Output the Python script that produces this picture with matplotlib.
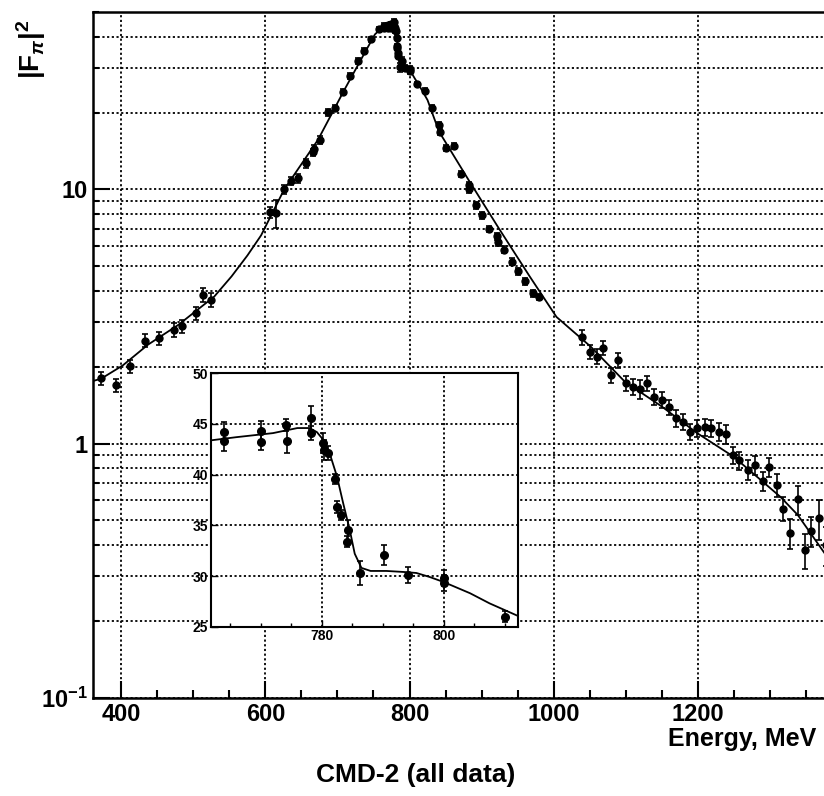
import matplotlib
matplotlib.use("Agg")
import matplotlib.pyplot as plt
from matplotlib.ticker import FixedLocator, MultipleLocator, LogLocator, NullFormatter
import numpy as np

plt.rcParams['font.family'] = ['Liberation Sans', 'DejaVu Sans']
plt.rcParams['font.weight'] = 'bold'
plt.rcParams['mathtext.fontset'] = 'custom'
plt.rcParams['mathtext.rm'] = 'Liberation Sans:bold'
plt.rcParams['mathtext.it'] = 'Liberation Sans:bold:italic'
plt.rcParams['mathtext.bf'] = 'Liberation Sans:bold'

# main plot data (energy MeV, |F_pi|^2, error)
main_E = [372, 393, 412, 433, 452, 473, 484, 503, 514, 524,
          606, 615, 626, 635, 645, 657, 666, 668, 676, 687, 696, 708, 717, 728, 737, 747, 757,
          821, 831, 841, 842, 850, 862, 871, 882, 883, 892, 901, 911, 922, 923, 931, 942, 951, 960, 971, 980,
          1040, 1051, 1060, 1069, 1079, 1090, 1100, 1110, 1120, 1130, 1140, 1150, 1160, 1170, 1180, 1190,
          1199, 1210, 1219, 1230, 1240, 1249, 1258, 1270, 1280, 1290, 1299, 1310, 1319, 1328, 1339, 1349,
          1358, 1369, 1378]
main_F = [1.81, 1.70, 2.01, 2.54, 2.60, 2.80, 2.89, 3.26, 3.85, 3.68,
          8.13, 8.08, 10.0, 10.8, 11.1, 12.7, 14.0, 14.5, 15.7, 20.1, 21.0, 24.2, 28.0, 32.1, 35.2, 39.1, 42.8,
          24.5, 21.0, 18.0, 16.9, 14.6, 14.8, 11.5, 10.4, 10.0, 8.65, 7.9, 7.0, 6.55, 6.2, 5.8, 5.2, 4.76, 4.35, 3.91, 3.77,
          2.62, 2.30, 2.20, 2.38, 1.86, 2.13, 1.73, 1.67, 1.64, 1.73, 1.53, 1.49, 1.39, 1.26, 1.22, 1.11,
          1.15, 1.16, 1.15, 1.11, 1.09, 0.90, 0.86, 0.79, 0.82, 0.71, 0.81, 0.686, 0.554, 0.444, 0.603, 0.38,
          0.453, 0.507, 0.40]
main_err = [0.11, 0.10, 0.12, 0.15, 0.15, 0.17, 0.17, 0.20, 0.23, 0.22,
            0.4, 1.0, 0.4, 0.4, 0.45, 0.5, 0.5, 0.5, 0.55, 0.6, 0.6, 0.7, 0.7, 0.8, 0.8, 0.9, 0.9,
            0.6, 0.5, 0.45, 0.45, 0.4, 0.4, 0.3, 0.3, 0.3, 0.25, 0.22, 0.2, 0.2, 0.2, 0.17, 0.15, 0.14, 0.13, 0.12, 0.11,
            0.17, 0.15, 0.15, 0.15, 0.13, 0.14, 0.12, 0.12, 0.14, 0.12, 0.11, 0.11, 0.10, 0.10, 0.09, 0.08,
            0.09, 0.09, 0.09, 0.09, 0.09, 0.07, 0.07, 0.07, 0.07, 0.06, 0.07, 0.07, 0.06, 0.06, 0.08, 0.06,
            0.06, 0.09, 0.07]

# fit curve
fit_E = [360, 372, 402, 437, 479, 529, 553, 575, 594, 626, 673, 710, 738, 752, 762, 766, 772, 776, 778, 779.2,
         780.3, 781.4, 782.5, 783.5, 784.6, 785.4, 786.5, 788, 790.6, 793.4, 795.5, 797.7, 800, 804.3,
         807.5, 812, 825, 841, 882, 924, 967, 1004, 1052, 1099, 1150, 1199, 1250, 1315, 1339, 1380]
fit_F = [1.76, 1.80, 2.03, 2.45, 2.93, 3.79, 4.55, 5.5, 6.6, 10.0, 15.7, 24.8, 34.6, 40.8, 43.4, 43.7, 44.1, 44.6, 44.6, 44.2,
         43.4, 41.9, 39.8, 37.2, 34.5, 32.2, 30.8, 30.5, 30.5, 30.4, 30.3, 29.9, 29.4, 28.3,
         27.3, 26.1, 22.5, 16.9, 10.9, 7.03, 4.54, 3.15, 2.40, 1.75, 1.40, 1.10, 0.887, 0.616, 0.523, 0.357]

# inset data
ins_E = [763.9, 763.9, 770.0, 770.0, 774.2, 774.3, 778.3, 778.2, 780.2, 780.4, 781.1,
         782.1, 782.5, 783.2, 784.3, 784.1, 786.2, 790.2, 794.1, 800.0, 800.0, 810.1]
ins_F = [44.2, 43.3, 44.3, 43.2, 44.9, 43.3, 45.6, 44.1, 43.1, 42.4, 42.1,
         39.6, 36.8, 36.0, 34.5, 33.4, 30.3, 32.1, 30.1, 29.8, 29.3, 26.0]
ins_err = [1.0, 1.0, 1.0, 0.8, 0.6, 1.2, 1.2, 0.7, 1.0, 1.0, 0.7,
           0.5, 0.6, 0.5, 1.0, 0.5, 1.2, 1.0, 0.8, 0.8, 0.8, 0.5]
ins_fit_E = fit_E[14:36]
ins_fit_F = fit_F[14:36]

fig = plt.figure(figsize=(8.24, 7.96), dpi=100)
ax = fig.add_axes([0.1123, 0.1237, 0.9005, 0.8613])

grid_style = dict(color='black', linestyle=(0, (1.2, 1.4)), linewidth=1.3)

ax.plot(fit_E, fit_F, color='black', lw=1.3, zorder=3)
ax.errorbar(main_E + ins_E, main_F + ins_F, yerr=main_err + ins_err, fmt='o', color='black',
            ms=5, capsize=2.5, elinewidth=1.2, capthick=1.2, zorder=4)

ax.set_yscale('log')
ax.set_xlim(360, 1390)
ax.set_ylim(0.1, 50)
ax.xaxis.set_major_locator(FixedLocator([400, 600, 800, 1000, 1200]))
ax.xaxis.set_minor_locator(MultipleLocator(50))
ax.yaxis.set_major_locator(FixedLocator([0.1, 1, 10]))
ax.set_yticklabels([r'$10^{-1}$', '1', '10'])
ax.yaxis.set_minor_locator(LogLocator(base=10, subs=np.arange(2, 10)))
ax.yaxis.set_minor_formatter(NullFormatter())
ax.tick_params(which='both', direction='in', width=1.5, labelsize=17)
ax.tick_params(which='major', length=12)
ax.tick_params(which='minor', length=6)
ax.tick_params(axis='y', which='minor', length=4)
ax.tick_params(axis='x', pad=4)
ax.grid(True, which='major', axis='x', **grid_style)
ax.grid(True, which='both', axis='y', **grid_style)
for s in ax.spines.values():
    s.set_linewidth(1.8)

fig.text(0.991, 0.071, 'Energy, MeV', ha='right', va='center', fontsize=18, fontweight='bold')
fig.text(0.505, 0.027, 'CMD-2 (all data)', ha='center', va='center', fontsize=19, fontweight='bold')
fig.text(0.038, 0.975, r'$|\mathrm{F}_\pi|^2$', rotation=90, ha='center', va='top', fontsize=20)

# inset
ins = fig.add_axes([0.2557, 0.2127, 0.3733, 0.3183])
ins.set_facecolor('white')
ins.plot(ins_fit_E, ins_fit_F, color='black', lw=1.3, zorder=3)
ins.errorbar(ins_E, ins_F, yerr=ins_err, fmt='o', color='black', ms=5.5,
             capsize=2.5, elinewidth=1.2, capthick=1.2, zorder=4)
ins.set_xlim(761.8, 812.2)
ins.set_ylim(25, 50)
ins.xaxis.set_major_locator(FixedLocator([780, 800]))
ins.xaxis.set_minor_locator(MultipleLocator(5))
ins.yaxis.set_major_locator(MultipleLocator(5))
ins.tick_params(which='both', direction='in', labelsize=10, width=1.0)
ins.tick_params(which='major', length=5, pad=2)
ins.tick_params(which='minor', length=3)
ins.grid(True, which='major', **grid_style)
for s in ins.spines.values():
    s.set_linewidth(1.5)

fig.savefig('out.png', dpi=100)
